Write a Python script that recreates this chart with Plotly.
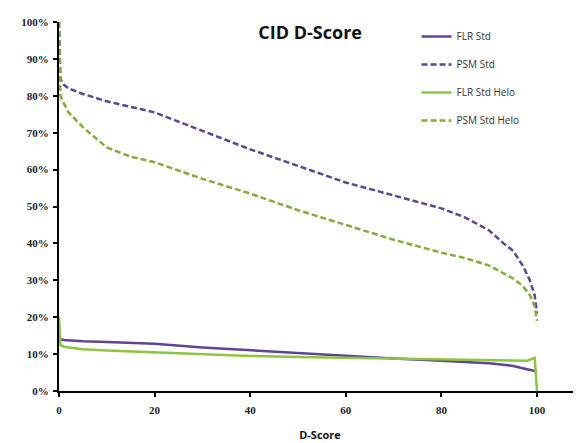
import plotly.graph_objects as go

x_psm = [0, 0.3, 1, 2, 5, 10, 15, 20, 30, 40, 50, 60, 70, 80, 85, 90, 93, 95, 97, 98.5, 99.5, 100]
psm_std = [100, 84.5, 83, 82, 80.5, 78.5, 77, 75.5, 70.5, 65.5, 61, 56.5, 53, 49.5, 47, 43.5, 40, 38, 34, 30, 26, 21]
psm_helo = [100, 80, 78, 75.5, 71.5, 66, 63.5, 62, 57.5, 53.5, 49, 45, 41, 37.5, 36, 34, 32, 30.5, 28.5, 26, 23, 19]

x_flr = [0, 0.3, 1, 2, 5, 10, 20, 30, 40, 50, 60, 70, 80, 90, 95, 98, 99.5, 100]
flr_std = [14.5, 14, 13.8, 13.7, 13.5, 13.3, 12.8, 11.8, 11, 10.2, 9.5, 8.8, 8.2, 7.5, 6.8, 6, 5.5, 5.3]
flr_helo = [20, 12.5, 12, 11.8, 11.3, 11, 10.5, 10, 9.5, 9.2, 9, 8.8, 8.6, 8.4, 8.3, 8.2, 9, 0]

purple = "#5e4594"
green = "#8cc63e"
green_d = "#7fae3a"
dash = "6px,3px"

fig = go.Figure()
fig.add_trace(go.Scatter(x=x_flr, y=flr_std, name="FLR Std", mode="lines", legendgroup="a",
                         line=dict(color=purple, width=2.5)))
fig.add_trace(go.Scatter(x=x_psm, y=psm_std, name="PSM Std", mode="lines", legendgroup="b",
                         line=dict(color=purple, width=2.5, dash=dash)))
fig.add_trace(go.Scatter(x=x_flr, y=flr_helo, name="FLR Std Helo", mode="lines", legendgroup="c",
                         line=dict(color=green, width=2.5)))
fig.add_trace(go.Scatter(x=x_psm, y=psm_helo, name="PSM Std Helo", mode="lines", legendgroup="d",
                         line=dict(color=green_d, width=2.5, dash=dash)))

fig.update_layout(
    width=581, height=443,
    margin=dict(l=51, r=8, t=14, b=60, autoexpand=False),
    paper_bgcolor="white", plot_bgcolor="white",
    title=dict(text="<b>CID D-Score</b>", x=0.52, xanchor="center", y=0.944, yanchor="middle",
               font=dict(family="Open Sans", size=18, color="#111")),
    legend=dict(x=0.685, y=1.0, xanchor="left", yanchor="top",
                font=dict(family="Open Sans", size=10, color="#333"),
                bgcolor="rgba(0,0,0,0)", tracegroupgap=9, itemwidth=30),
    showlegend=True,
)
fig.update_xaxes(range=[0, 109.2], tickvals=[0, 20, 40, 60, 80, 100], showgrid=False, zeroline=False,
                 automargin=False, ticklabelstandoff=4,
                 showline=True, linecolor="black", linewidth=2, ticks="outside", ticklen=4,
                 tickcolor="black", tickwidth=2,
                 tickfont=dict(family="Liberation Serif", size=11, color="#222", weight="bold"),
                 title=dict(text="<b>D-Score</b>", font=dict(family="Open Sans", size=11, color="#111"), standoff=16))
fig.update_yaxes(range=[0, 100], tickvals=[0, 10, 20, 30, 40, 50, 60, 70, 80, 90, 100],
                 ticktext=[f"{v}%" for v in range(0, 101, 10)],
                 automargin=False, ticklabelstandoff=2,
                 showgrid=False, zeroline=False, showline=True, linecolor="black", linewidth=2,
                 ticks="outside", ticklen=4, tickcolor="black", tickwidth=2,
                 tickfont=dict(family="Liberation Serif", size=11, color="#222", weight="bold"))

fig.write_html("out.html")
